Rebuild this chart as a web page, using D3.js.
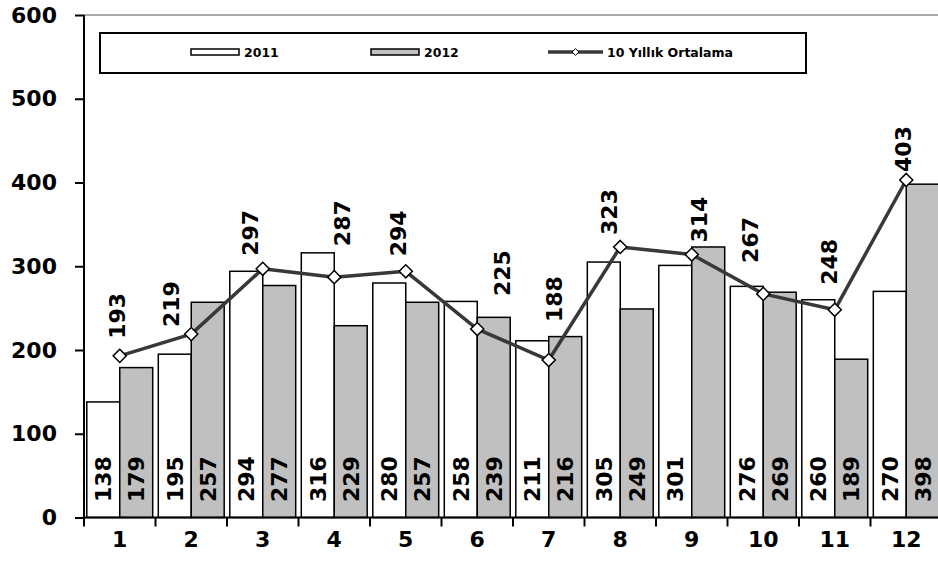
<!DOCTYPE html>
<html>
<head>
<meta charset="utf-8">
<script src="https://cdn.jsdelivr.net/npm/d3@7"></script>
<style>
  body { margin: 0; background: #fff; }
  text { font-family: 'DejaVu Sans', sans-serif; font-weight: bold; }
</style>
</head>
<body>
<div class="chart"></div>
<script>
// values
var months = ['1', '2', '3', '4', '5', '6', '7', '8', '9', '10', '11', '12'];
var series = ['2011', '2012'];
var v2011 = [138, 195, 294, 316, 280, 258, 211, 305, 301, 276, 260, 270];
var v2012 = [179, 257, 277, 229, 257, 239, 216, 249, 323, 269, 189, 398];
var avg10 = [193, 219, 297, 287, 294, 225, 188, 323, 314, 267, 248, 403];
var yTicks = [0, 100, 200, 300, 400, 500, 600];
var lineName = '10 Yıllık Ortalama';
// 2012 month 9 has no label in the original
var hiddenLabels2012 = ['9'];

// hand placed line labels (pixel nudges: dx, gap above the point)
var labelNudge = [[-3, 17], [-20, 7], [-13, 13], [8, 31], [-8, 15], [25, 33],
                  [5, 38], [-11, 12], [7, 12], [-13, 31], [-6, 25], [-3, 8]];

var W = 938, H = 570;
var pLeft = 84, pRight = 942, pTop = 15, pBottom = 517.5;
var font = "'DejaVu Sans', sans-serif";
var bigSize = '22px';

var svg = d3.select('.chart')
  .append('svg')
  .attr('width', W)
  .attr('height', H);

var xScale = d3.scaleBand()
  .domain(months)
  .range([pLeft, pRight])
  .padding(0);

var xSub = d3.scaleBand()
  .domain(series)
  .range([0, xScale.bandwidth()])
  .paddingInner(0)
  .paddingOuter(0.085);

var yScale = d3.scaleLinear()
  .domain([0, 600])
  .range([pBottom, pTop]);

var fills = { '2011': '#ffffff', '2012': '#c0c0c0' };

// top border of plot area
svg.append('line')
  .attr('x1', pLeft).attr('x2', W)
  .attr('y1', pTop).attr('y2', pTop)
  .style('stroke', '#8c8c8c')
  .style('stroke-width', 1.5);

// bars
var rows = months.map((m, i) => ({ month: m, '2011': v2011[i], '2012': v2012[i] }));

var groups = svg.selectAll('.grp')
  .data(rows)
  .enter()
  .append('g')
  .attr('class', 'grp')
  .attr('transform', d => 'translate(' + xScale(d.month) + ',0)');

groups.selectAll('rect')
  .data(d => series.map(s => ({ month: d.month, key: s, value: d[s] })))
  .enter()
  .append('rect')
  .attr('x', d => xSub(d.key))
  .attr('y', d => yScale(d.value))
  .attr('width', xSub.bandwidth())
  .attr('height', d => yScale(0) - yScale(d.value))
  .style('fill', d => fills[d.key])
  .style('stroke', '#000')
  .style('stroke-width', 1.5);

groups.selectAll('.barlabel')
  .data(d => series.map(s => ({ month: d.month, key: s, value: d[s] }))
    .filter(d => !(d.key === '2012' && hiddenLabels2012.indexOf(d.month) >= 0)))
  .enter()
  .append('text')
  .attr('class', 'barlabel')
  .attr('transform', d => 'translate(' + (xSub(d.key) + xSub.bandwidth() / 2) + ',' + (yScale(0) - 15.5) + ') rotate(-90)')
  .attr('dy', '0.36em')
  .style('font-size', bigSize)
  .style('text-anchor', 'start')
  .text(d => d.value);

// axes
var yAxis = svg.append('g')
  .attr('transform', 'translate(' + pLeft + ',0)')
  .call(d3.axisLeft(yScale).tickValues(yTicks).tickSize(9).tickPadding(18));

var xAxis = svg.append('g')
  .attr('transform', 'translate(0,' + pBottom + ')')
  .call(d3.axisBottom(xScale).tickSize(0).tickPadding(14));

// category boundary ticks
svg.selectAll('.btick')
  .data(months)
  .enter()
  .append('line')
  .attr('class', 'btick')
  .attr('x1', d => xScale(d)).attr('x2', d => xScale(d))
  .attr('y1', pBottom).attr('y2', pBottom + 9)
  .style('stroke', '#000')
  .style('stroke-width', 2);

[yAxis, xAxis].forEach(a => {
  a.select('.domain').style('stroke', '#000').style('stroke-width', 2);
  a.selectAll('.tick line').style('stroke', '#000').style('stroke-width', 2);
  a.selectAll('text')
    .style('font-family', font)
    .style('font-weight', 'bold')
    .style('font-size', bigSize)
    .style('fill', '#000');
});
xAxis.select('.domain').attr('d', 'M' + pLeft + ',0H' + W);
yAxis.select('.domain').attr('d', 'M0,' + pBottom + 'V' + pTop);
xAxis.selectAll('.tick text').attr('dy', '0.71em');

// line
var line = d3.line()
  .x((d, i) => xScale(months[i]) + xScale.bandwidth() / 2)
  .y(d => yScale(d));

svg.append('path')
  .datum(avg10)
  .attr('d', line)
  .style('fill', 'none')
  .style('stroke', '#383838')
  .style('stroke-width', 3.5)
  .style('stroke-linejoin', 'round');

var diamond = d3.symbol().type(d3.symbolDiamond2).size(110);

svg.selectAll('.dot')
  .data(avg10)
  .enter()
  .append('path')
  .attr('class', 'dot')
  .attr('d', diamond)
  .attr('transform', (d, i) => 'translate(' + line.x()(d, i) + ',' + line.y()(d, i) + ')')
  .style('fill', '#fff')
  .style('stroke', '#000')
  .style('stroke-width', 1.5);

svg.selectAll('.linelabel')
  .data(avg10)
  .enter()
  .append('text')
  .attr('class', 'linelabel')
  .attr('transform', (d, i) => 'translate(' + (line.x()(d, i) + labelNudge[i][0]) + ',' +
    (line.y()(d, i) - labelNudge[i][1]) + ') rotate(-90)')
  .attr('dy', '0.36em')
  .style('font-size', bigSize)
  .style('text-anchor', 'start')
  .text(d => d);

// legend
var legend = svg.append('g');
legend.append('rect')
  .attr('x', 100).attr('y', 33)
  .attr('width', 706).attr('height', 40)
  .style('fill', '#fff')
  .style('stroke', '#000')
  .style('stroke-width', 2);

series.forEach((s, i) => {
  var lx = 191 + i * 180;
  legend.append('rect')
    .attr('x', lx).attr('y', 49)
    .attr('width', 48).attr('height', 6)
    .style('fill', fills[s])
    .style('stroke', '#000')
    .style('stroke-width', 1.5);
  legend.append('text')
    .attr('x', lx + 53).attr('y', 57)
    .style('font-size', '12.5px')
    .text(s);
});

legend.append('line')
  .attr('x1', 548).attr('x2', 603)
  .attr('y1', 52).attr('y2', 52)
  .style('stroke', '#383838')
  .style('stroke-width', 3.5);
legend.append('path')
  .attr('d', d3.symbol().type(d3.symbolDiamond2).size(30))
  .attr('transform', 'translate(575.5,52)')
  .style('fill', '#fff')
  .style('stroke', '#000')
  .style('stroke-width', 1);
legend.append('text')
  .attr('x', 607).attr('y', 57)
  .style('font-size', '12.5px')
  .text(lineName);
</script>
</body>
</html>
